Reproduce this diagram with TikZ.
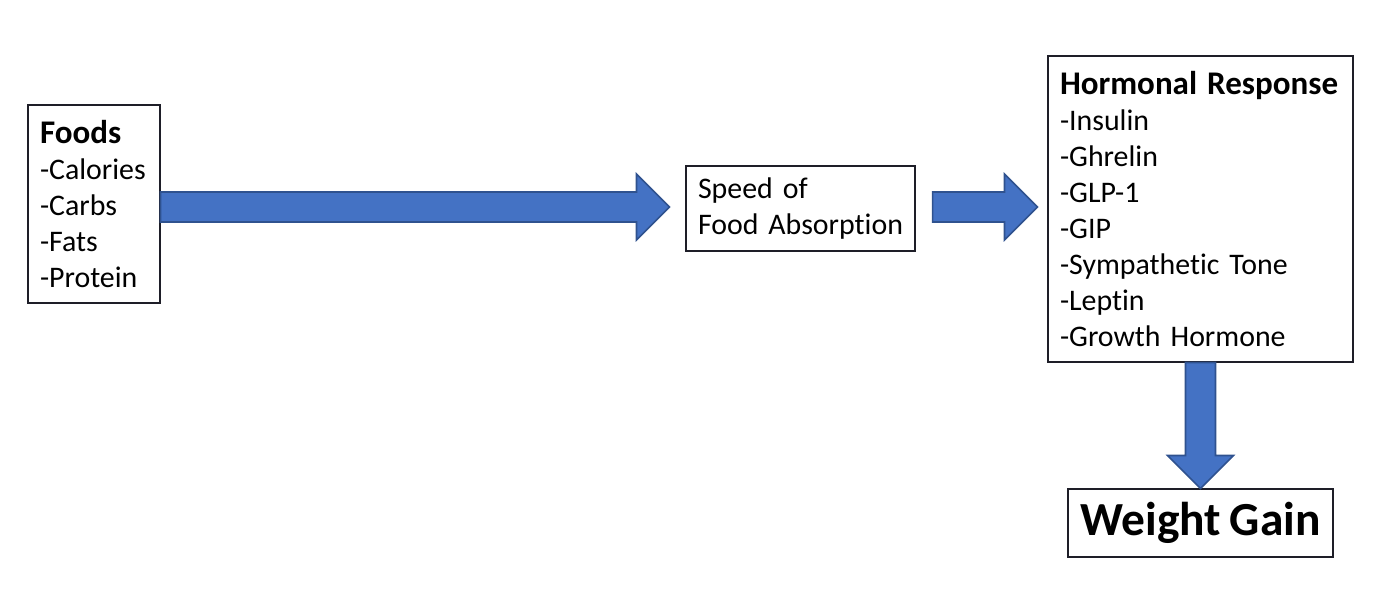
\documentclass[tikz,border=0pt]{standalone}
\usepackage{fontspec}
\setmainfont{Carlito}[Ligatures=NoCommon, WordSpace=0.8]
\usetikzlibrary{calc}
\definecolor{arrowBlue}{RGB}{68,114,196}
\definecolor{arrowEdge}{RGB}{47,82,143}
\definecolor{boxEdge}{RGB}{30,30,40}

% block arrow from #1 to #2 (tip at #2)
\newcommand{\fatarrow}[2]{%
  \coordinate (hb) at ($(#2)!0.66cm!(#1)$);
  \draw[fatarrow] ($(#1)!0.3cm!90:(#2)$) -- ($(hb)!0.3cm!-90:(#1)$)
    -- ($(hb)!0.66cm!-90:(#1)$) -- (#2) -- ($(hb)!0.66cm!90:(#1)$)
    -- ($(hb)!0.3cm!90:(#1)$) -- ($(#1)!0.3cm!-90:(#2)$) -- cycle;}
\newcommand{\boxtitle}[1]{{\fontsize{18.8pt}{20.5pt}\selectfont\bfseries #1}}

\begin{document}
\begin{tikzpicture}[
        box/.style={draw=boxEdge, line width=0.6pt, fill=white, inner xsep=0.24cm, align=left,
          font=\fontsize{17pt}{20.5pt}\selectfont},
        fatarrow/.style={draw=arrowEdge, line width=0.9pt, fill=arrowBlue, line join=miter}
      ]
        \useasboundingbox (0,0) rectangle (27.84,11.88);
        \node[box, minimum width=2.64cm, minimum height=3.96cm, text width=2.16cm] (foods) at (1.88,7.80)
          {\boxtitle{Foods}\\-Calories\\-Carbs\\-Fats\\-Protein};
        \node[box, minimum width=4.58cm, minimum height=1.70cm, text width=4.10cm] (speed) at (16.01,7.71)
          {Speed of\\\mbox{Food Absorption}};
        \node[box, minimum width=6.10cm, minimum height=6.12cm, text width=5.62cm] (horm) at (24.01,7.70)
          {\boxtitle{Hormonal Response}\\-Insulin\\-Ghrelin\\-GLP-1\\-GIP\\-Sympathetic Tone\\-Leptin\\-Growth Hormone};
        \node[box, minimum width=5.30cm, minimum height=1.36cm, align=center,
          font=\fontsize{27pt}{30pt}\selectfont\bfseries] (gain) at (24.01,1.42) {Weight Gain};
        \coordinate (a1) at ($(foods.east |- speed.west)+(0,0.03)$);
        \coordinate (b1) at ($(speed.west)+(-0.32,0.03)$);
        \coordinate (a2) at ($(speed.east)+(0.34,0.03)$);
        \coordinate (b2) at ($(horm.west |- speed.west)+(-0.2,0.03)$);
        \fatarrow{a1}{b1}
        \fatarrow{a2}{b2}
        \fatarrow{horm.south}{gain.north}
      \end{tikzpicture}
\end{document}
